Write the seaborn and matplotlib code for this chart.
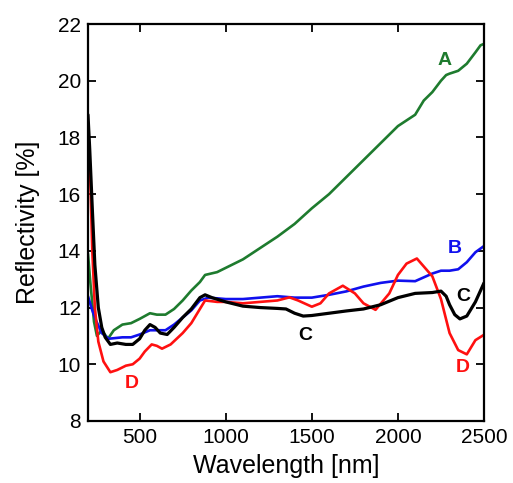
import matplotlib
matplotlib.use('Agg')
import matplotlib.pyplot as plt
import seaborn as sns

# Curve A (green)
wl_a = [200, 215, 235, 252, 280, 316, 350, 400, 450, 500, 560, 600, 650, 700, 750,
        800, 850, 880, 950, 1000, 1100, 1200, 1300, 1400, 1500, 1600, 1700, 1800,
        1900, 2000, 2050, 2100, 2150, 2200, 2250, 2280, 2300, 2350, 2400, 2450, 2480, 2500]
refl_a = [13.9, 12.8, 11.5, 11.0, 11.2, 10.9, 11.2, 11.4, 11.45, 11.6, 11.8, 11.75, 11.75,
          11.95, 12.25, 12.6, 12.9, 13.15, 13.25, 13.4, 13.7, 14.1, 14.5, 14.95, 15.5,
          16.0, 16.6, 17.2, 17.8, 18.4, 18.6, 18.8, 19.3, 19.6, 20.0, 20.2, 20.25, 20.35,
          20.6, 21.0, 21.25, 21.3]

# Curve B (blue)
wl_b = [200, 210, 225, 250, 280, 320, 400, 450, 500, 560, 600, 650, 700, 750, 800, 850,
        900, 1000, 1100, 1200, 1300, 1400, 1500, 1600, 1700, 1800, 1900, 2000, 2100,
        2200, 2250, 2300, 2350, 2400, 2450, 2500]
refl_b = [12.4, 12.2, 11.9, 11.5, 11.1, 10.9, 10.95, 10.95, 11.05, 11.2, 11.2, 11.2, 11.4,
          11.65, 11.9, 12.25, 12.35, 12.3, 12.3, 12.35, 12.4, 12.35, 12.35, 12.45, 12.57,
          12.74, 12.87, 12.95, 12.93, 13.2, 13.3, 13.3, 13.35, 13.6, 13.95, 14.17]

# Curve C (black)
wl_c = [200, 210, 225, 240, 260, 280, 300, 330, 370, 420, 460, 500, 530, 560, 590,
        620, 660, 700, 750, 800, 850, 880, 920, 1000, 1100, 1200, 1300, 1350, 1400, 1450,
        1500, 1600, 1700, 1800, 1900, 2000, 2100, 2200, 2250, 2280, 2300, 2330, 2360,
        2400, 2450, 2500]
refl_c = [18.8, 17.6, 15.5, 13.5, 12.0, 11.3, 10.95, 10.7, 10.75, 10.7, 10.7, 10.9,
          11.2, 11.4, 11.3, 11.1, 11.05, 11.3, 11.65, 11.95, 12.35, 12.45, 12.35, 12.2,
          12.05, 12.0, 11.97, 11.95, 11.8, 11.7, 11.72, 11.8, 11.88, 11.95, 12.1, 12.35,
          12.5, 12.53, 12.58, 12.4, 12.1, 11.75, 11.6, 11.7, 12.2, 12.87]

# Curve D (red)
wl_d = [200, 212, 225, 240, 260, 290, 330, 370, 420, 460, 500, 530, 570, 600, 630, 680,
        750, 800, 850, 880, 950, 1000, 1100, 1200, 1300, 1370, 1420, 1500, 1550, 1600,
        1680, 1750, 1800, 1870, 1950, 2000, 2050, 2110, 2150, 2200, 2250, 2300, 2350,
        2400, 2450, 2500]
refl_d = [17.1, 16.8, 14.0, 12.0, 10.8, 10.1, 9.72, 9.8, 9.95, 10.0, 10.2, 10.45, 10.7,
          10.65, 10.55, 10.7, 11.1, 11.45, 11.95, 12.25, 12.2, 12.2, 12.15, 12.2, 12.25,
          12.36, 12.25, 12.03, 12.15, 12.5, 12.77, 12.5, 12.15, 11.92, 12.5, 13.15, 13.55,
          13.73, 13.45, 13.1, 12.3, 11.1, 10.5, 10.35, 10.85, 11.04]

x_ticks = [500, 1000, 1500, 2000, 2500]
y_ticks = [8, 10, 12, 14, 16, 18, 20, 22]

sns.set_style('ticks')
plt.rcParams['font.family'] = ['Liberation Sans', 'DejaVu Sans']
plt.rcParams['text.color'] = 'black'
plt.rcParams['axes.labelcolor'] = 'black'
plt.rcParams['xtick.color'] = 'black'
plt.rcParams['ytick.color'] = 'black'

fig = plt.figure(figsize=(5.13, 4.83), dpi=100)
ax = fig.add_axes([0.1715, 0.1284, 0.772, 0.8219])

sns.lineplot(x=wl_a, y=refl_a, color='#1e7b2e', linewidth=1.9, ax=ax)
sns.lineplot(x=wl_b, y=refl_b, color='#1010ee', linewidth=1.9, ax=ax)
sns.lineplot(x=wl_d, y=refl_d, color='#ff1010', linewidth=1.9, ax=ax)
sns.lineplot(x=wl_c, y=refl_c, color='black', linewidth=2.3, ax=ax)

# Curve labels
lbl = dict(fontsize=14, fontweight='bold', ha='center', va='center')
ax.text(2273, 20.73, 'A', color='#1e7b2e', **lbl)
ax.text(2331, 14.1, 'B', color='#1010ee', **lbl)
ax.text(2378, 12.4, 'C', color='black', **lbl)
ax.text(1460, 11.0, 'C', color='black', **lbl)
ax.text(2378, 9.87, 'D', color='#ff1010', **lbl)
ax.text(455, 9.31, 'D', color='#ff1010', **lbl)

ax.set_xlim(200, 2500)
ax.set_ylim(8, 22)
ax.set_xticks(x_ticks)
ax.set_yticks(y_ticks)
ax.tick_params(direction='in', top=True, right=True, length=6, width=1.3,
               labelsize=15, pad=5)
for s in ax.spines.values():
    s.set_linewidth(1.6)
    s.set_color('black')

ax.set_xlabel('Wavelength [nm]', fontsize=18, labelpad=5)
ax.set_ylabel('Reflectivity [%]', fontsize=18, labelpad=13)

fig.savefig('out.png', dpi=100)
